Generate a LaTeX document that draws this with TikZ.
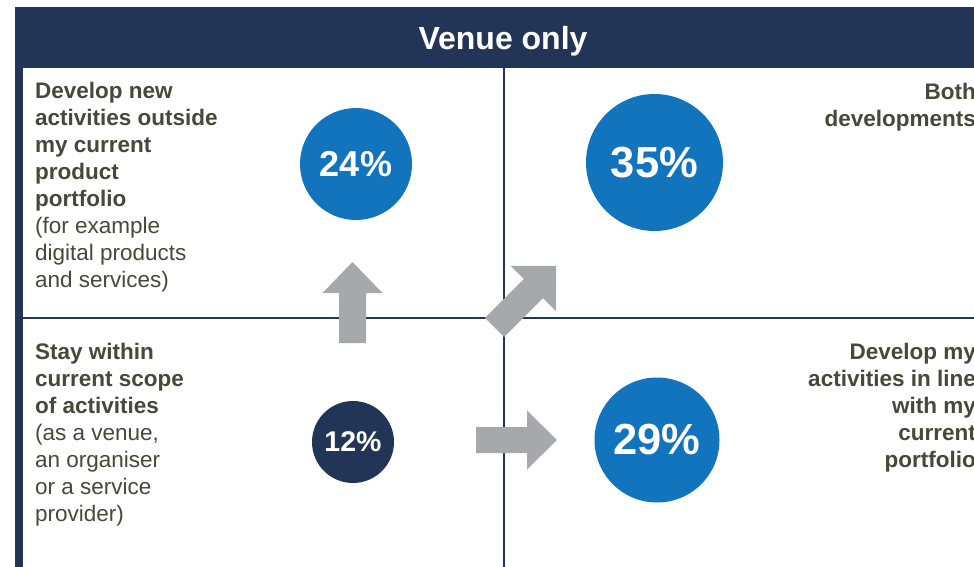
\documentclass[tikz,border=0pt]{standalone}
\usepackage{fontspec}
\setmainfont{Liberation Sans}
\definecolor{navy}{RGB}{35,53,87}
\definecolor{blueC}{RGB}{17,116,188}
\definecolor{arrowgray}{RGB}{167,168,172}
\definecolor{textc}{RGB}{72,72,58}
\begin{document}
\begin{tikzpicture}[x=1pt,y=-1pt,
  body/.style={inner sep=0, text=textc, font=\fontsize{22.5}{27}\selectfont},
  pctcircle/.style={circle, inner sep=0, text=white},
  blockarrow/.style={fill=arrowgray, draw=none},
  divider/.style={draw=navy, line width=2.7pt}
]
\useasboundingbox (0,0) rectangle (974,567);
\fill[white] (0,0) rectangle (974,567);
% header and frame
\fill[navy] (15,7.5) rectangle (990,68);
\fill[navy] (15,67) rectangle (22.5,580);
\draw[divider] (504,67) -- (504,580);
\draw[divider] (22.5,318) -- (990,318);
\node[anchor=base, inner sep=0, text=white, font=\bfseries\fontsize{32}{38}\selectfont] (title) at (503,50) {Venue only};
% texts (base anchor = baseline of last line)
\node[body, anchor=base west, align=left] (tl) at (35,287.5) {\textbf{Develop new}\\\textbf{activities outside}\\\textbf{my current}\\\textbf{product}\\\textbf{portfolio}\\(for example\\digital products\\and services)};
\node[body, anchor=base west, align=left] (bl) at (35,521) {\textbf{Stay within}\\\textbf{current scope}\\\textbf{of activities}\\(as a venue,\\an organiser\\or a service\\provider)};
\node[body, anchor=base east, align=right, font=\bfseries\fontsize{22.5}{27}\selectfont] (tr) at (976,127) {Both\\developments};
\node[body, anchor=base east, align=right, font=\bfseries\fontsize{22.5}{27}\selectfont] (br) at (976,467) {Develop my\\activities in line\\with my\\current\\portfolio};
% arrows
\fill[blockarrow] (339,343) -- (339,293) -- (322.5,293) -- (352.5,262) -- (382.5,293) -- (366,293) -- (366,343) -- cycle;
\fill[blockarrow] (476,427) -- (527,427) -- (527,410.5) -- (557,440) -- (527,469.5) -- (527,453) -- (476,453) -- cycle;
\fill[blockarrow] (504.05,337.05) -- (542.94,298.16) -- (556.02,311.24) -- (556.02,265.98) -- (510.76,265.98) -- (523.84,279.06) -- (484.95,317.95) -- cycle;
% circles
\node[pctcircle, fill=blueC, minimum size=112, font=\bfseries\fontsize{36}{40}\selectfont] (c24) at (356,164) {24\%};
\node[pctcircle, fill=blueC, minimum size=137, font=\bfseries\fontsize{43.5}{48}\selectfont] (c35) at (654.5,162.5) {35\%};
\node[pctcircle, fill=blueC, minimum size=125, font=\bfseries\fontsize{43.5}{48}\selectfont] (c29) at (657,440) {29\%};
\node[pctcircle, fill=navy, minimum size=82, font=\bfseries\fontsize{28.5}{32}\selectfont] (c12) at (353,442) {12\%};
\end{tikzpicture}
\end{document}
